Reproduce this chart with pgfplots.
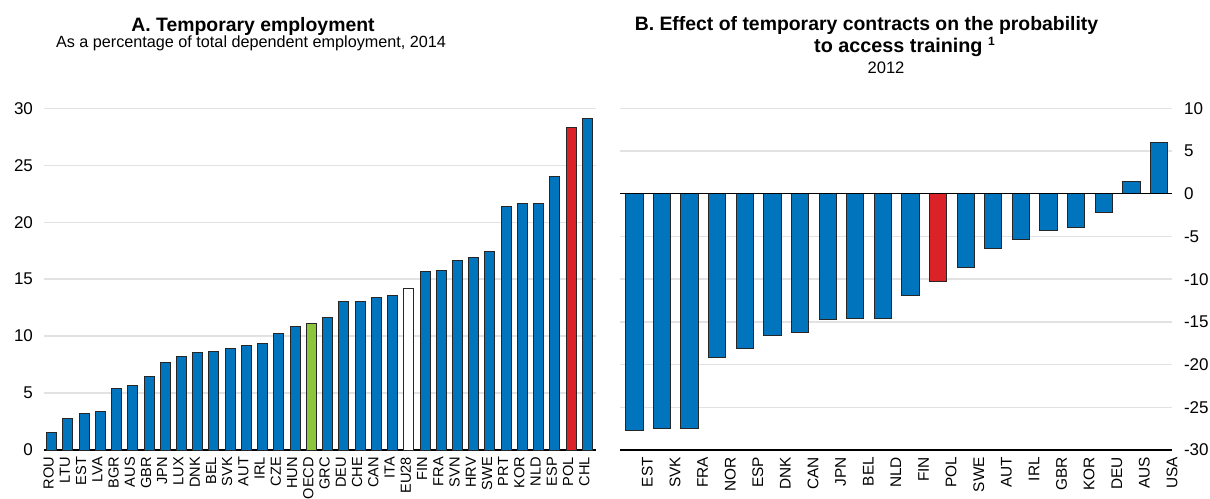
\documentclass[border=0pt]{standalone}
\usepackage{pgfplots}
\pgfplotsset{compat=1.18}
\usepackage{fontspec}
\setmainfont{Liberation Sans}

\definecolor{barblue}{RGB}{0,116,188}
\definecolor{barred}{RGB}{218,34,40}
\definecolor{bargreen}{RGB}{140,198,63}
\definecolor{gridgray}{RGB}{226,226,226}

\pgfplotsset{
  panel/.style={
    scale only axis,
    width=276pt, height=170.85pt,
    ymajorgrids,
    grid style={gridgray, line width=0.7pt},
    major tick length=0pt,
    axis x line*=bottom,
    x axis line style={black, line width=0.8pt, -},
    y axis line style={draw=none},
    /pgf/number format/assume math mode=true,
    yticklabel style={font=\fontsize{8.5}{9}\selectfont},
    xticklabel style={rotate=90, anchor=east, font=\fontsize{7.7}{8}\selectfont},
    clip=false,
  },
  bars/.style={ybar, bar shift=0pt, draw=black!85, line width=0.5pt},
}

\begin{document}
\begin{tikzpicture}
\path[use as bounding box] (0,0) rectangle (605pt,-249pt);
\clip (0,0) rectangle (605pt,-249pt);

% Panel A
\node[font=\bfseries\fontsize{9.7}{12}\selectfont, anchor=base] at (126.5pt,-15.85pt) {A. Temporary employment};
\node[font=\fontsize{8.1}{10}\selectfont, anchor=base] at (125.5pt,-23.5pt) {As a percentage of total dependent employment, 2014};

\begin{axis}[panel,
  at={(22pt,-54.15pt)}, anchor=north west,
  ymin=0, ymax=30, ytick={0,5,...,30},
  xmin=-0.47, xmax=33.53,
  axis y line*=left,
  yticklabel style={xshift=-2pt},
  xtick={0,...,33},
  xticklabels={ROU,LTU,EST,LVA,BGR,AUS,GBR,JPN,LUX,DNK,BEL,SVK,AUT,IRL,CZE,HUN,OECD,GRC,DEU,CHE,CAN,ITA,EU28,FIN,FRA,SVN,HRV,SWE,PRT,KOR,NLD,ESP,POL,CHL},
  xticklabel style={yshift=1.5pt, font=\fontsize{7.3}{8}\selectfont},
]
\addplot[bars, bar width=5pt, fill=barblue] coordinates {
  (0,1.52) (1,2.75) (2,3.22) (3,3.34) (4,5.36) (5,5.65) (6,6.44) (7,7.67)
  (8,8.17) (9,8.52) (10,8.66) (11,8.90) (12,9.16) (13,9.34) (14,10.21) (15,10.80)
  (17,11.65) (18,13.05) (19,13.05) (20,13.35) (21,13.55)
  (23,15.63) (24,15.80) (25,16.65) (26,16.94) (27,17.41) (28,21.42) (29,21.63)
  (30,21.63) (31,23.97) (33,29.12)
};
\addplot[bars, bar width=5pt, fill=bargreen] coordinates {(16,11.12)};
\addplot[bars, bar width=5pt, fill=white] coordinates {(22,14.19)};
\addplot[bars, bar width=5pt, fill=barred] coordinates {(32,28.33)};
\end{axis}

% Panel B
\node[font=\bfseries\fontsize{9.7}{12}\selectfont, anchor=base] at (433.25pt,-15.5pt) {B. Effect of temporary contracts on the probability};
\node[font=\bfseries\fontsize{9.9}{12}\selectfont, anchor=base] at (452.5pt,-26.5pt) {to access training \textsuperscript{\fontsize{6}{6}\selectfont 1}};
\node[font=\fontsize{8.3}{10}\selectfont, anchor=base] at (443pt,-36.5pt) {2012};

\begin{axis}[panel,
  at={(310pt,-54.15pt)}, anchor=north west,
  ymin=-30, ymax=10, ytick={-30,-25,...,10},
  xmin=-0.52, xmax=19.47,
  axis y line*=right,
  yticklabel pos=right,
  yticklabel style={anchor=west, xshift=2.5pt},
  xtick={0,...,19},
  xticklabels={EST,SVK,FRA,NOR,ESP,DNK,CAN,JPN,BEL,NLD,FIN,POL,SWE,AUT,IRL,GBR,KOR,DEU,AUS,USA},
  xticklabel style={yshift=-6.5pt},
]
\addplot[bars, bar width=8.65pt, fill=barblue] coordinates {
  (0,-27.77) (1,-27.54) (2,-27.46) (3,-19.14) (4,-18.09) (5,-16.64) (6,-16.29)
  (7,-14.69) (8,-14.57) (9,-14.57) (10,-11.95) (12,-8.63) (13,-6.37) (14,-5.39)
  (15,-4.26) (16,-3.95) (17,-2.19) (18,1.48) (19,6.05)
};
\addplot[bars, bar width=8.65pt, fill=barred] coordinates {(11,-10.27)};
\addplot[black, line width=0.5pt, mark=none] coordinates {(-0.52,0) (19.47,0)};
\end{axis}
\end{tikzpicture}
\end{document}
